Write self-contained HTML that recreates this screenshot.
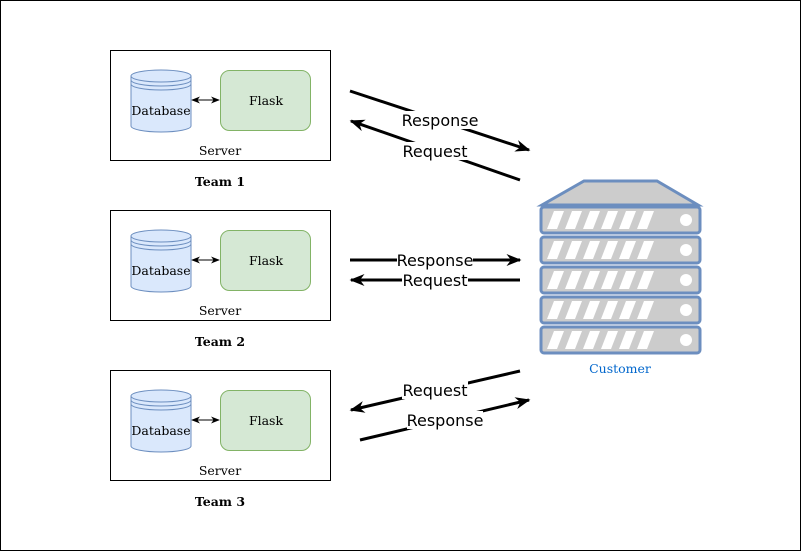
<!DOCTYPE html>
<html><head><style>body{margin:0;background:#fff}svg{display:block}</style></head><body>
<svg width="801" height="551" viewBox="0 0 801 551" xmlns="http://www.w3.org/2000/svg">
<defs>
<marker id="a" viewBox="0 0 10 10" refX="9" refY="5" markerWidth="5" markerHeight="5" orient="auto-start-reverse" markerUnits="strokeWidth"><path d="M0,1 L10,5 L0,9 L3,5 Z" fill="#000"/></marker>
<marker id="s" viewBox="0 0 10 10" refX="9" refY="5" markerWidth="9" markerHeight="9" orient="auto-start-reverse"><path d="M0,1 L10,5 L0,9 L3,5 Z" fill="#000"/></marker>
<g id="team">
<rect x="110.5" y="0.5" width="220" height="110" fill="#fff" stroke="#000"/>
<path d="M131,26 v50 a30,6 0 0 0 60,0 v-50" fill="#dae8fc" stroke="#6c8ebf"/>
<ellipse cx="161" cy="26" rx="30" ry="6" fill="#dae8fc" stroke="#6c8ebf"/>
<path d="M131,30 a30,6 0 0 0 60,0 M131,34 a30,6 0 0 0 60,0" fill="none" stroke="#6c8ebf"/>
<text x="161" y="65" font-family="DejaVu Serif, Liberation Serif, serif" font-size="12.5" text-anchor="middle">Database</text>
<rect x="220.5" y="20.5" width="90" height="60" rx="9" fill="#d5e8d4" stroke="#82b366"/>
<text x="266" y="55" font-family="DejaVu Serif, Liberation Serif, serif" font-size="12.5" text-anchor="middle">Flask</text>
<line x1="192" y1="50" x2="219" y2="50" stroke="#000" marker-start="url(#s)" marker-end="url(#s)"/>
<text x="220" y="105" font-family="DejaVu Serif, Liberation Serif, serif" font-size="12.5" text-anchor="middle">Server</text>
</g>
</defs>
<rect x="0.5" y="0.5" width="800" height="550" fill="#fff" stroke="#000"/>
<use href="#team" y="50"/>
<use href="#team" y="210"/>
<use href="#team" y="370"/>
<g font-family="DejaVu Serif, Liberation Serif, serif" font-size="12.5" font-weight="bold" text-anchor="middle">
<text x="220" y="186">Team 1</text><text x="220" y="346">Team 2</text><text x="220" y="506">Team 3</text>
</g>
<g stroke="#000" stroke-width="3" fill="none">
<line x1="350" y1="91" x2="529" y2="150" marker-end="url(#a)"/>
<line x1="520" y1="180" x2="351" y2="121" marker-end="url(#a)"/>
<line x1="350" y1="260" x2="520" y2="260" marker-end="url(#a)"/>
<line x1="520" y1="280" x2="351" y2="280" marker-end="url(#a)"/>
<line x1="520" y1="371" x2="351" y2="410" marker-end="url(#a)"/>
<line x1="360" y1="440" x2="529" y2="400" marker-end="url(#a)"/>
</g>
<g font-family="DejaVu Sans, Liberation Sans, sans-serif" font-size="16" text-anchor="middle">
<rect x="402" y="111" width="76" height="18" fill="#fff"/><text x="440" y="126">Response</text>
<rect x="402" y="142" width="66" height="18" fill="#fff"/><text x="435" y="157">Request</text>
<rect x="397" y="251" width="76" height="18" fill="#fff"/><text x="435" y="266">Response</text>
<rect x="402" y="271" width="66" height="18" fill="#fff"/><text x="435" y="286">Request</text>
<rect x="402" y="381" width="66" height="18" fill="#fff"/><text x="435" y="396">Request</text>
<rect x="407" y="411" width="76" height="18" fill="#fff"/><text x="445" y="426">Response</text>
</g>
<g stroke="#6c8ebf" stroke-width="3">
<path d="M584,181 H657 L698,205 H542 Z" fill="#cccccc"/>
<g id="u">
<rect x="541" y="207" width="159" height="26" rx="3" fill="#cccccc"/>
<g fill="#fff" stroke="none">
<path d="M554,211 h10 l-7,18 h-10z M572,211 h10 l-7,18 h-10z M590,211 h10 l-7,18 h-10z M608,211 h10 l-7,18 h-10z M626,211 h10 l-7,18 h-10z M644,211 h10 l-7,18 h-10z"/>
<circle cx="686" cy="220" r="6"/>
</g>
</g>
<use href="#u" y="30"/><use href="#u" y="60"/><use href="#u" y="90"/><use href="#u" y="120"/>
</g>
<text x="620" y="373" font-family="DejaVu Serif, Liberation Serif, serif" font-size="12.5" fill="#0066cc" text-anchor="middle">Customer</text>
</svg>
</body></html>
